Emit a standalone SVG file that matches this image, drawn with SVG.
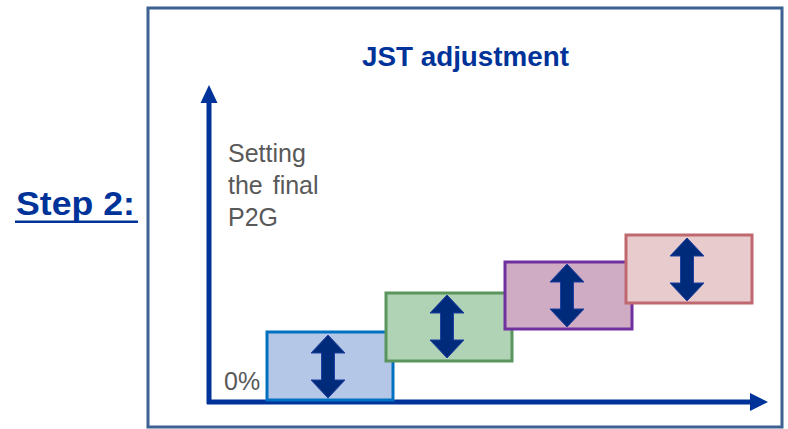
<svg xmlns="http://www.w3.org/2000/svg" width="788" height="429" viewBox="0 0 788 429">
<defs>
<style>
.frame{fill:#fff;stroke:#3d6191;stroke-width:3}
.axis{stroke:#003399;stroke-width:5;fill:none}
.head{fill:#003399}
.dbl{fill:#002a7a;stroke:#1f3fa0;stroke-width:1}
.lbl{font-family:"Liberation Sans",Arial,sans-serif;fill:#595959;font-size:25px}
.ttl{font-family:"Liberation Sans",Arial,sans-serif;fill:#003399;font-weight:bold}
.box{stroke-width:3}
</style>
<path id="dblarrow" d="M0,0 L17,18 L6.5,18 L6.5,45 L17,45 L0,63 L-17,45 L-6.5,45 L-6.5,18 L-17,18 Z"/>
</defs>
<rect width="788" height="429" fill="#fff"/>
<rect class="frame" x="148" y="8" width="634" height="419"/>
<g id="step-label">
<text class="ttl" x="16" y="215" font-size="33" textLength="119" lengthAdjust="spacingAndGlyphs">Step 2:</text>
<rect x="15" y="220.5" width="123" height="2.5" fill="#003399"/>
</g>
<g id="title">
<text class="ttl" x="362" y="66" font-size="27" textLength="207" lengthAdjust="spacingAndGlyphs">JST adjustment</text>
</g>
<g id="axes">
<line class="axis" x1="209" y1="404" x2="209" y2="100"/>
<polygon class="head" points="209,85 217.5,103 200.5,103"/>
<line class="axis" x1="207" y1="402" x2="752" y2="402"/>
<polygon class="head" points="768,402 750,393 750,411"/>
</g>
<g id="y-label">
<text class="lbl" x="228" y="162">Setting</text>
<text class="lbl" x="228" y="194" word-spacing="3">the final</text>
<text class="lbl" x="228" y="226">P2G</text>
</g>
<g id="zero-label">
<text class="lbl" x="224" y="390">0%</text>
</g>
<g id="box1">
<rect class="box" x="267" y="332" width="126" height="68" fill="#b4c7e7" stroke="#0070c0"/>
<use href="#dblarrow" class="dbl" x="328" y="335"/>
</g>
<g id="box2">
<rect class="box" x="386" y="293" width="126" height="68" fill="#b0d3b5" stroke="#5a955e"/>
<use href="#dblarrow" class="dbl" x="447" y="295"/>
</g>
<g id="box3">
<rect class="box" x="505" y="262" width="127" height="67" fill="#cfabc4" stroke="#7030a0"/>
<use href="#dblarrow" class="dbl" x="567" y="264"/>
</g>
<g id="box4">
<rect class="box" x="626" y="235" width="126" height="68" fill="#e8cccd" stroke="#c0686f"/>
<use href="#dblarrow" class="dbl" x="687" y="238"/>
</g>
</svg>
